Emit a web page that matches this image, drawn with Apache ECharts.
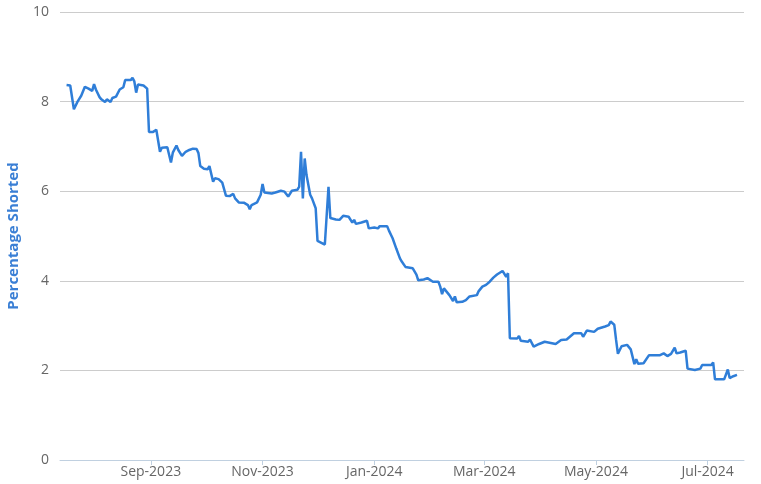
<!DOCTYPE html>
<html>
<head>
<meta charset="utf-8">
<script src="https://cdn.jsdelivr.net/npm/echarts@6/dist/echarts.min.js"></script>
<style>
html,body{margin:0;padding:0;background:#fff;}
#chart{width:761px;height:484px;}
</style>
</head>
<body>
<div id="chart"></div>
<script>
const dates = [
'2023-07-17','2023-07-19','2023-07-21','2023-07-23','2023-07-25','2023-07-26','2023-07-27','2023-07-29','2023-07-31',
'2023-08-01','2023-08-02','2023-08-04','2023-08-05','2023-08-07','2023-08-08','2023-08-10','2023-08-11','2023-08-13',
'2023-08-15','2023-08-17','2023-08-18','2023-08-21','2023-08-22','2023-08-23','2023-08-24','2023-08-25','2023-08-28',
'2023-08-30','2023-08-31','2023-09-02','2023-09-04','2023-09-06','2023-09-07','2023-09-10','2023-09-12','2023-09-13',
'2023-09-14','2023-09-15','2023-09-16','2023-09-18','2023-09-20','2023-09-22','2023-09-24','2023-09-26','2023-09-27',
'2023-09-28','2023-09-30','2023-10-02','2023-10-03','2023-10-05','2023-10-06','2023-10-08','2023-10-10','2023-10-12',
'2023-10-14','2023-10-16','2023-10-17','2023-10-19','2023-10-22','2023-10-24','2023-10-25','2023-10-26','2023-10-29',
'2023-10-30','2023-10-31','2023-11-01','2023-11-02','2023-11-03','2023-11-06','2023-11-08','2023-11-09','2023-11-11',
'2023-11-13','2023-11-14','2023-11-15','2023-11-17','2023-11-20','2023-11-21','2023-11-22','2023-11-23','2023-11-24',
'2023-11-25','2023-11-27','2023-11-28','2023-11-30','2023-12-01','2023-12-05','2023-12-07','2023-12-08','2023-12-11',
'2023-12-13','2023-12-14','2023-12-15','2023-12-18','2023-12-19','2023-12-20','2023-12-21','2023-12-22','2023-12-25',
'2023-12-28','2023-12-29','2024-01-01','2024-01-02','2024-01-03','2024-01-04','2024-01-08','2024-01-09','2024-01-11',
'2024-01-13','2024-01-15','2024-01-16','2024-01-18','2024-01-19','2024-01-22','2024-01-24','2024-01-25','2024-01-28',
'2024-01-30','2024-02-02','2024-02-05','2024-02-06','2024-02-07','2024-02-08','2024-02-09','2024-02-11','2024-02-13',
'2024-02-14','2024-02-15','2024-02-16','2024-02-18','2024-02-20','2024-02-22','2024-02-26','2024-02-27','2024-02-29',
'2024-03-02','2024-03-04','2024-03-06','2024-03-08','2024-03-11','2024-03-12','2024-03-13','2024-03-14','2024-03-15',
'2024-03-19','2024-03-20','2024-03-21','2024-03-25','2024-03-26','2024-03-28','2024-03-31','2024-04-03','2024-04-09',
'2024-04-12','2024-04-15','2024-04-19','2024-04-23','2024-04-24','2024-04-26','2024-04-30','2024-05-02','2024-05-06',
'2024-05-08','2024-05-09','2024-05-11','2024-05-12','2024-05-13','2024-05-15','2024-05-16','2024-05-18','2024-05-20',
'2024-05-22','2024-05-23','2024-05-24','2024-05-27','2024-05-30','2024-06-05','2024-06-07','2024-06-09','2024-06-11',
'2024-06-13','2024-06-14','2024-06-16','2024-06-19','2024-06-20','2024-06-24','2024-06-27','2024-06-28','2024-07-03',
'2024-07-04','2024-07-05','2024-07-10','2024-07-11','2024-07-12','2024-07-13','2024-07-15','2024-07-17'
];
const shorted = [
8.37,8.36,7.83,8.00,8.13,8.17,8.33,8.29,8.24,
8.39,8.27,8.10,8.05,7.99,8.05,7.99,8.08,8.11,
8.27,8.32,8.48,8.48,8.53,8.45,8.20,8.38,8.36,
8.29,7.32,7.32,7.37,6.88,6.97,6.98,6.64,6.86,
6.86,7.02,6.92,6.79,6.88,6.92,6.95,6.94,6.85,
6.56,6.50,6.49,6.56,6.21,6.29,6.27,6.19,5.90,
5.89,5.94,5.84,5.75,5.74,5.69,5.60,5.69,5.75,
5.77,5.92,6.16,5.97,5.99,5.95,5.97,6.01,6.01,
5.99,5.99,5.88,6.01,6.03,6.10,6.88,5.84,6.73,
6.36,5.92,5.84,5.62,4.89,4.81,6.10,5.40,5.37,
5.36,5.32,5.45,5.43,5.39,5.30,5.36,5.27,5.30,
5.34,5.17,5.19,5.22,5.17,5.22,5.22,5.12,4.95,
4.72,4.50,4.43,4.31,4.28,4.28,4.14,4.01,4.03,
4.06,3.98,3.98,3.87,3.70,3.83,3.85,3.68,3.55,
3.65,3.52,3.49,3.53,3.57,3.65,3.68,3.77,3.87,
3.91,3.98,4.07,4.14,4.22,4.26,4.09,4.17,2.72,
2.71,2.77,2.66,2.64,2.69,2.53,2.59,2.64,2.59,
2.68,2.69,2.83,2.83,2.75,2.89,2.86,2.93,2.98,
3.01,3.09,3.02,2.68,2.37,2.54,2.52,2.57,2.47,
2.14,2.25,2.15,2.16,2.34,2.34,2.38,2.32,2.37,
2.51,2.38,2.40,2.44,2.04,2.01,2.04,2.12,2.12,
2.18,1.80,1.80,1.82,2.02,1.83,1.87,1.90
];
const tickDates = ['2023-09-01','2023-11-01','2024-01-01','2024-03-01','2024-05-01','2024-07-01'];
const tickLabels = ['Sep-2023','Nov-2023','Jan-2024','Mar-2024','May-2024','Jul-2024'];
const axisStart = '2023-07-13T10:00:00Z';
const axisEnd = '2024-07-20T20:00:00Z';

const toTime = s => Date.parse(s.length === 10 ? s + 'T00:00:00Z' : s);
const tickTimes = tickDates.map(toTime);
const chart = echarts.init(document.getElementById('chart'), null, {renderer: 'canvas'});
const FONT = '"Open Sans", "Noto Sans", sans-serif';
chart.setOption({
  animation: false,
  backgroundColor: '#ffffff',
  grid: {left: 60, right: 17, top: 12, bottom: 24, containLabel: false, outerBoundsMode: 'none'},
  xAxis: {
    type: 'value',
    min: toTime(axisStart),
    max: toTime(axisEnd),
    axisLine: {show: true, onZero: false, lineStyle: {color: '#c0d0e0', width: 1}},
    axisTick: {show: true, length: 5, lineStyle: {color: '#c0d0e0'}, customValues: tickTimes},
    axisLabel: {
      customValues: tickTimes,
      color: '#666666', fontSize: 14, fontFamily: FONT, margin: 5,
      formatter: function (v) {
        const i = tickTimes.indexOf(v);
        return i >= 0 ? tickLabels[i] : '';
      }
    },
    splitLine: {show: false}
  },
  yAxis: {
    type: 'value',
    min: 0, max: 10, interval: 2,
    name: 'Percentage Shorted',
    nameLocation: 'middle',
    nameGap: 39,
    nameTextStyle: {color: '#3a7fd5', fontSize: 15, fontWeight: 'bold', fontFamily: FONT},
    axisLine: {show: false},
    axisTick: {show: false},
    axisLabel: {color: '#666666', fontSize: 14, fontFamily: FONT, margin: 11},
    splitLine: {lineStyle: {color: '#cccccc', width: 1}}
  },
  series: [{
    type: 'line',
    data: dates.map((d, i) => [toTime(d), shorted[i]]),
    showSymbol: false,
    lineStyle: {color: '#2f7ed8', width: 2.5},
    itemStyle: {color: '#2f7ed8'}
  }]
});
</script>
</body>
</html>
